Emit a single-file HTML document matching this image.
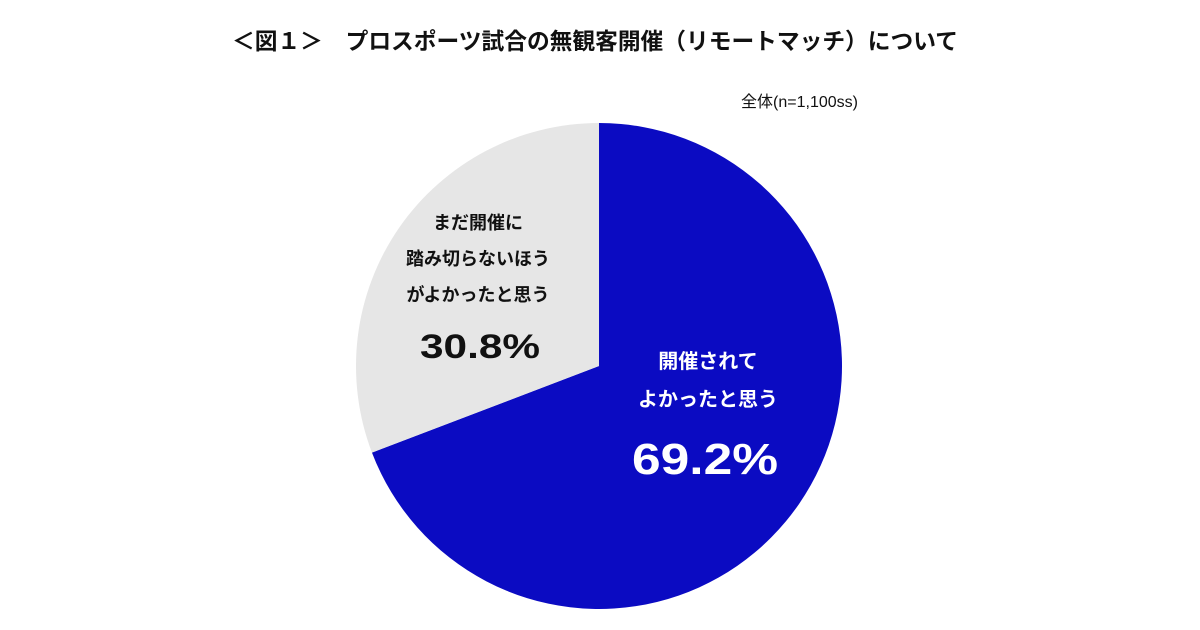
<!DOCTYPE html>
<html><head><meta charset="utf-8"><style>
html,body{margin:0;padding:0;background:#fff;width:1200px;height:630px;overflow:hidden}
text{font-family:"Liberation Sans","Noto Sans CJK JP",sans-serif}
</style></head><body>
<svg id="chart" width="1200" height="630" viewBox="0 0 1200 630">
<text x="595" y="49" text-anchor="middle" font-size="23" font-weight="bold" fill="#111" textLength="726" lengthAdjust="spacingAndGlyphs">＜図１＞　プロスポーツ試合の無観客開催（リモートマッチ）について</text>
<text x="858" y="107" text-anchor="end" font-size="16" fill="#111">全体(n=1,100ss)</text>
<g id="slices"></g>
<g id="labels"></g>
</svg>
<script>
const categories = ["開催されてよかったと思う", "まだ開催に踏み切らないほうがよかったと思う"];
const values = [69.2, 30.8];
const valueLabels = ["69.2%", "30.8%"];
const colors = ["#0b0bc2", "#e6e6e6"];
const cx = 599, cy = 366, r = 243;
const ns = "http://www.w3.org/2000/svg";
const g = document.getElementById("slices");
const total = values.reduce((a, b) => a + b, 0);
function pt(frac) { const a = frac * 2 * Math.PI; return [cx + r * Math.sin(a), cy - r * Math.cos(a)]; }
let acc = 0;
values.forEach((v, i) => {
  const f0 = acc / total, f1 = (acc + v) / total; acc += v;
  const [x0, y0] = pt(f0), [x1, y1] = pt(f1);
  const large = (f1 - f0) > 0.5 ? 1 : 0;
  const p = document.createElementNS(ns, "path");
  p.setAttribute("d", `M${cx},${cy} L${x0},${y0} A${r},${r} 0 ${large} 1 ${x1},${y1} Z`);
  p.setAttribute("fill", colors[i]);
  
  
  g.appendChild(p);
});
const lg = document.getElementById("labels");
function addText(x, y, s, size, fill, name, len) {
  const t = document.createElementNS(ns, "text");
  t.setAttribute("x", x); t.setAttribute("y", y);
  t.setAttribute("text-anchor", "middle");
  t.setAttribute("font-size", size);
  t.setAttribute("font-weight", "bold");
  t.setAttribute("fill", fill);
  if (len) { t.setAttribute("textLength", len); t.setAttribute("lengthAdjust", "spacingAndGlyphs"); }
  t.textContent = s;
  
  
  lg.appendChild(t);
}
addText(708, 368, "開催されて", 20, "#fff", "slice-1-label-line-1");
addText(708, 406, "よかったと思う", 20, "#fff", "slice-1-label-line-2");
addText(705, 474, valueLabels[0], 44, "#fff", "slice-1-value", 146);
addText(478, 229, "まだ開催に", 18, "#111", "slice-2-label-line-1");
addText(478, 265, "踏み切らないほう", 18, "#111", "slice-2-label-line-2");
addText(478, 301, "がよかったと思う", 18, "#111", "slice-2-label-line-3");
addText(480, 358, valueLabels[1], 34, "#111", "slice-2-value", 120);
</script>
</body></html>
